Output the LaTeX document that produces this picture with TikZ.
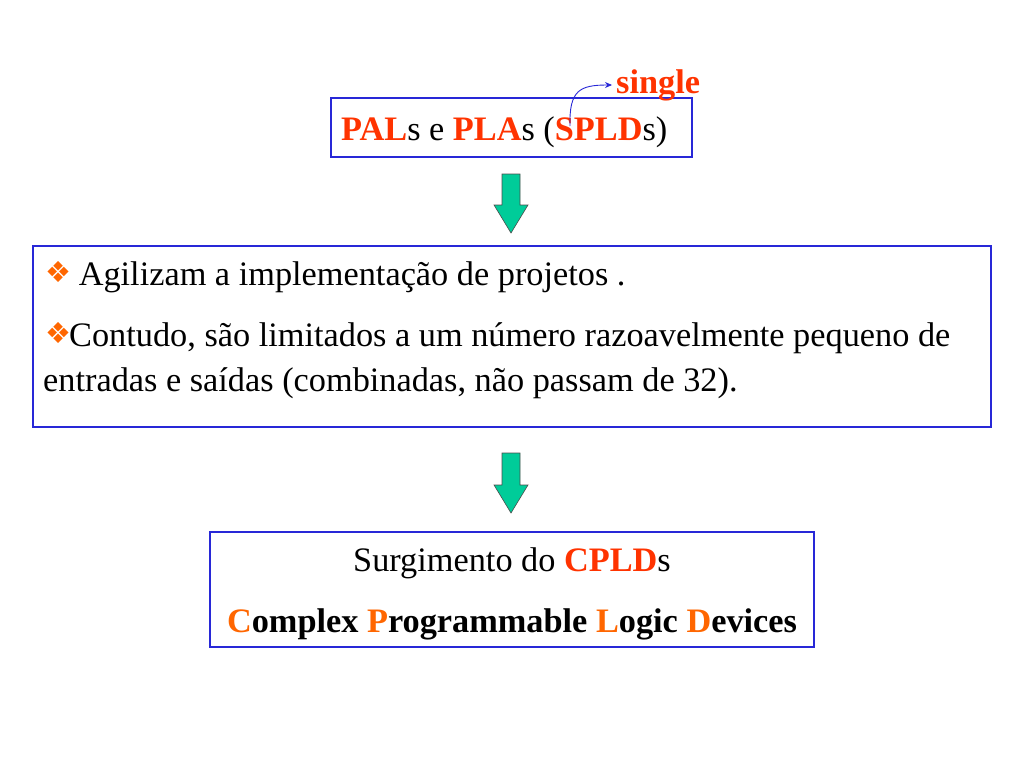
\documentclass[tikz,border=0pt]{standalone}
\usepackage{fontspec}
\setmainfont{Liberation Serif}
\newfontfamily\symfont{DejaVu Sans}
\usetikzlibrary{arrows.meta}
\definecolor{boxblue}{RGB}{40,40,215}
\definecolor{txtred}{RGB}{255,51,0}
\definecolor{txtorange}{RGB}{255,102,0}
\definecolor{arrgreen}{RGB}{0,204,153}
\newcommand{\dia}{\raisebox{3pt}{\textcolor{txtorange}{\symfont\fontsize{29}{29}\selectfont ❖}}}
\begin{document}
\begin{tikzpicture}[x=1pt,y=-1pt,
  box/.style={draw=boxblue,line width=1.6pt,inner sep=0pt},
  txt/.style={inner sep=0pt,anchor=base west,font=\fontsize{34.3}{38}\selectfont},
  blockarrow/.style={fill=arrgreen,draw=black!70,line width=0.6pt}]
\useasboundingbox (0,0) rectangle (1024,768);
% boxes
\node[box,minimum width=361pt,minimum height=59pt] (b1) at (511.5,127.5) {};
\node[box,minimum width=958pt,minimum height=181pt] (b2) at (512,336.5) {};
\node[box,minimum width=604pt,minimum height=115pt] (b3) at (512,589.5) {};
% box 1 text
\node[txt] (t1) at (341,140) {\textcolor{txtred}{\textbf{PAL}}s e \textcolor{txtred}{\textbf{PLA}}s (\textcolor{txtred}{\textbf{SPLD}}s)};
\node[txt,anchor=base west] (single) at (616,93) {\textcolor{txtred}{\textbf{single}}};
\coordinate (sstart) at (570,126);
\draw[boxblue,line width=0.9pt,-{Stealth[length=7pt,width=6pt]}] (sstart) .. controls (569,90) and (580,85) .. (612,85);
% box 2 text
\node[txt] (l1) at (45,285) {\dia\hspace{-1pt} Agilizam a implementação de projetos .};
\node[txt] (l2) at (45,346) {\dia\hspace{-2pt}Contudo, são limitados a um número razoavelmente pequeno de};
\node[txt] (l3) at (43,391) {entradas e saídas (combinadas, não passam de 32).};
% box 3 text
\node[txt,anchor=base] (s1) at (512,571) {Surgimento do \textcolor{txtred}{\textbf{CPLD}}s};
\node[txt,anchor=base] (s2) at (512,632) {\textbf{\textcolor{txtorange}{C}omplex \textcolor{txtorange}{P}rogrammable \textcolor{txtorange}{L}ogic \textcolor{txtorange}{D}evices}};
% green block arrows
\foreach \top/\bot in {174/233,453/513}{
  \draw[blockarrow] (502,\top) -- (520,\top) -- (520,\bot-28) -- (528,\bot-28) -- (511,\bot) -- (494,\bot-28) -- (502,\bot-28) -- cycle;
}
\end{tikzpicture}
\end{document}
